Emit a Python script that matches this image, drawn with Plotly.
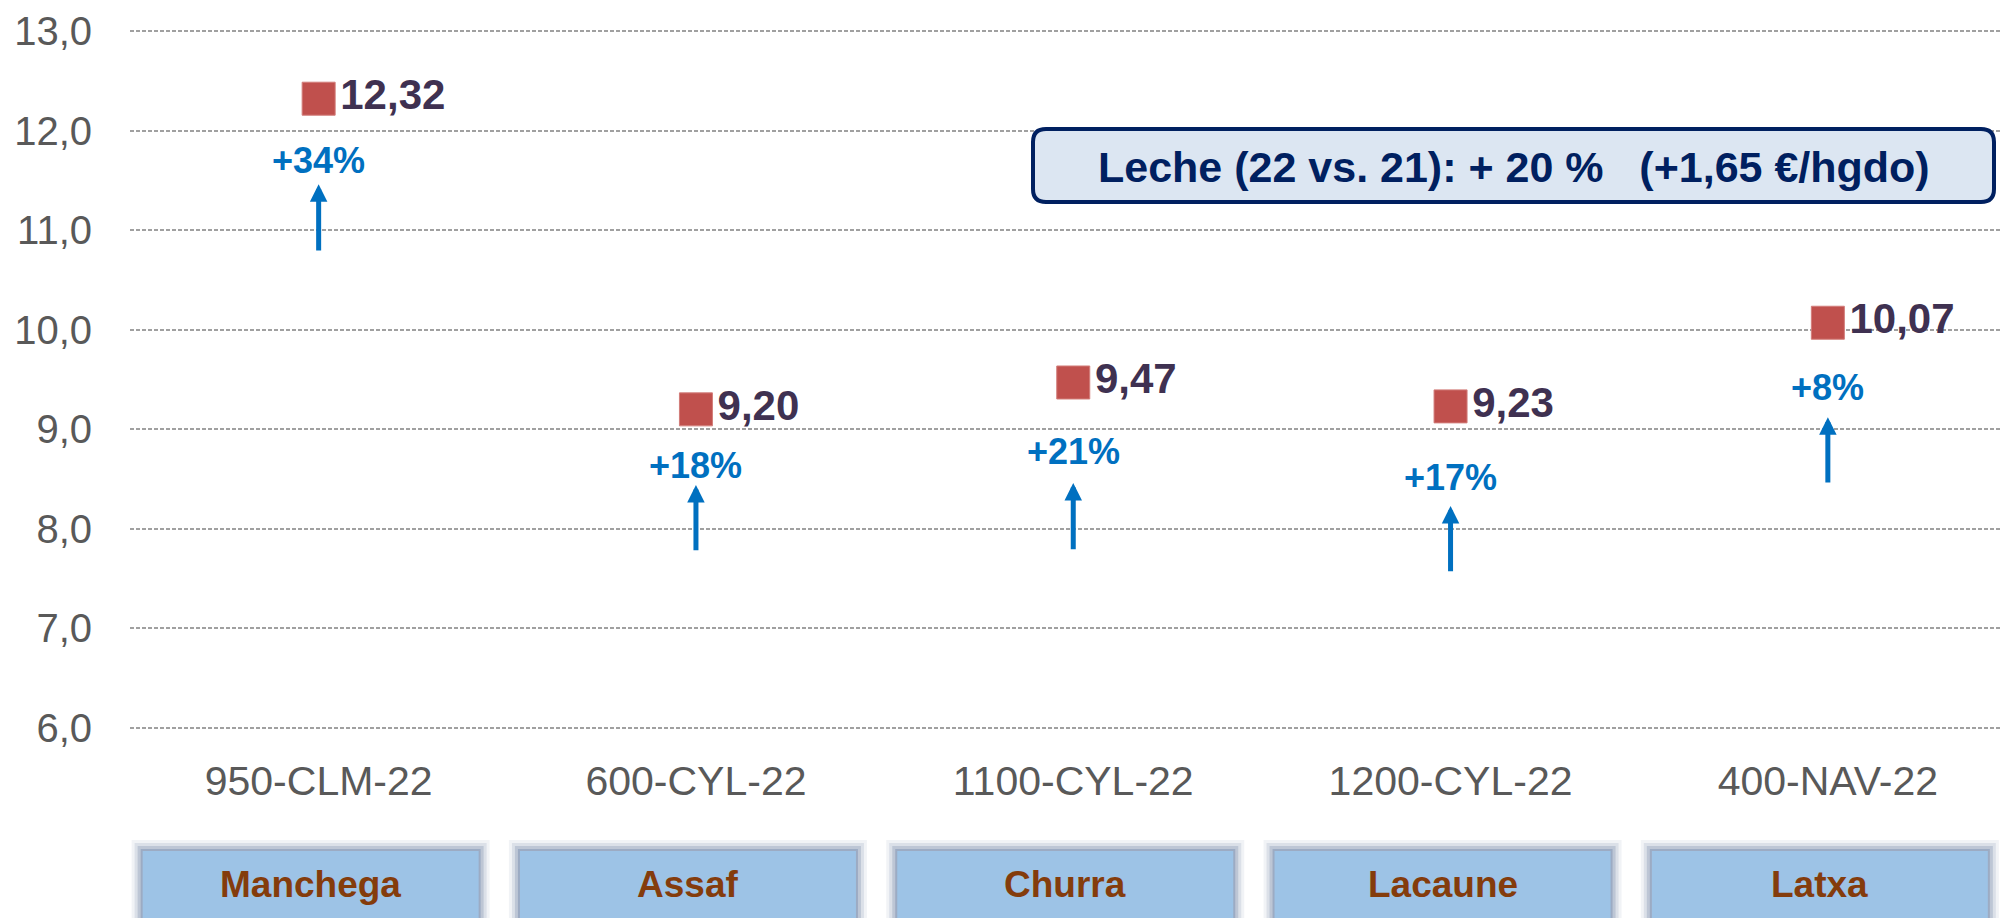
import plotly.graph_objects as go

# ---------------- data ----------------
categories = ["950-CLM-22", "600-CYL-22", "1100-CYL-22", "1200-CYL-22", "400-NAV-22"]
breeds = ["Manchega", "Assaf", "Churra", "Lacaune", "Latxa"]
values = [12.32, 9.20, 9.47, 9.23, 10.07]
pct_change = [34, 18, 21, 17, 8]
pct_label_y = [11.70, 8.64, 8.78, 8.52, 9.42]
arrow_tip_y = [11.46, 8.44, 8.46, 8.23, 9.12]
arrow_base_y = [10.78, 7.77, 7.78, 7.56, 8.45]
y_ticks = [6, 7, 8, 9, 10, 11, 12, 13]
summary_text = "Leche (22 vs. 21): + 20 %\u00a0\u00a0\u00a0(+1,65 €/hgdo)"

# ---------------- layout constants ----------------
W, H = 2000, 918
ML, MR, MT, MB = 130, 0, 28, 187
PLOT_W = W - ML - MR
PLOT_H = H - MT - MB
BAND = 377.3  # px per category
FONT = "Liberation Sans, Arial, sans-serif"


def px_x(px):
    return (px - ML) / PLOT_W


def px_y(py):
    return (MT + PLOT_H - py) / PLOT_H


fig = go.Figure()
fig.add_trace(go.Scatter(
    x=categories, y=values,
    mode="markers+text",
    marker=dict(symbol="square", size=33, color="#C0504D",
                line=dict(width=1, color="#D27D7A")),
    texttemplate="%{y:.2f}",
    textposition="middle right",
    textfont=dict(family=FONT, size=42, color="#3F3151", weight="bold"),
    cliponaxis=False,
    hoverinfo="skip",
    showlegend=False,
))

annotations = []
shapes = []

# percentage labels and arrows
for i, cat in enumerate(categories):
    annotations.append(dict(
        x=i, y=pct_label_y[i], xref="x", yref="y",
        text=f"+{pct_change[i]}%", showarrow=False,
        font=dict(family=FONT, size=36, color="#0070C0", weight="bold"),
        xanchor="center", yanchor="middle",
    ))
    annotations.append(dict(
        x=i, y=arrow_tip_y[i], xref="x", yref="y",
        ax=i, ay=arrow_base_y[i], axref="x", ayref="y",
        text="", showarrow=True,
        arrowhead=2, arrowwidth=5, arrowsize=0.7, arrowcolor="#0070C0",
        standoff=0, startstandoff=0,
        font=dict(size=1),
    ))

# breed boxes below the axis (with soft shadow)
box_top = px_y(851)
box_bot = px_y(935)
for i, name in enumerate(breeds):
    for grow, col in [(11, "rgba(120,140,170,0.10)"), (8, "rgba(120,140,170,0.18)"),
                      (5, "rgba(120,140,170,0.30)"), (2, "rgba(130,150,180,0.55)")]:
        shapes.append(dict(
            type="rect", xref="x", yref="paper", xsizemode="pixel", xanchor=i,
            x0=-176 - grow, x1=160 + grow,
            y0=box_bot, y1=box_top + grow / PLOT_H,
            fillcolor=col, line=dict(width=0), layer="above",
        ))
    shapes.append(dict(
        type="rect", xref="x", yref="paper", xsizemode="pixel", xanchor=i,
        x0=-176, x1=160, y0=box_bot, y1=box_top,
        fillcolor="#9DC3E6", line=dict(width=0), layer="above",
    ))
    annotations.append(dict(
        x=i, y=px_y(885), xref="x", yref="paper", xshift=-8,
        text=name, showarrow=False,
        font=dict(family=FONT, size=37, color="#843C0C", weight="bold"),
        xanchor="center", yanchor="middle",
    ))

# summary rounded box
L, R, T, B, rad = 1033, 1994, 129, 202, 13
rx = rad / PLOT_W
ry = rad / PLOT_H
x0, x1, y0, y1 = px_x(L), px_x(R), px_y(B), px_y(T)
path = (f"M {x0 + rx},{y1} L {x1 - rx},{y1} Q {x1},{y1} {x1},{y1 - ry} "
        f"L {x1},{y0 + ry} Q {x1},{y0} {x1 - rx},{y0} "
        f"L {x0 + rx},{y0} Q {x0},{y0} {x0},{y0 + ry} "
        f"L {x0},{y1 - ry} Q {x0},{y1} {x0 + rx},{y1} Z")
shapes.append(dict(type="path", xref="paper", yref="paper", path=path,
                   fillcolor="#DCE6F2", line=dict(color="#002060", width=4),
                   layer="above"))
annotations.append(dict(
    x=px_x((L + R) / 2), y=px_y(167), xref="paper", yref="paper",
    text=summary_text, showarrow=False,
    font=dict(family=FONT, size=43, color="#002060", weight="bold"),
    xanchor="center", yanchor="middle",
))

fig.update_layout(
    width=W, height=H,
    margin=dict(l=ML, r=MR, t=MT, b=MB, pad=0),
    paper_bgcolor="white", plot_bgcolor="white",
    separators=",.",
    showlegend=False,
    shapes=shapes,
    annotations=annotations,
    xaxis=dict(
        type="category",
        range=[-0.5, -0.5 + PLOT_W / BAND],
        showgrid=False, showline=False, zeroline=False,
        ticks="", ticklabelstandoff=22,
        tickfont=dict(family=FONT, size=41, color="#595959"),
        fixedrange=True,
    ),
    yaxis=dict(
        range=[5.97, 13.03],
        tickvals=y_ticks, tickformat=".1f",
        showgrid=True, gridcolor="#A0A0A0", gridwidth=2, griddash="4px,2px",
        showline=False, zeroline=False,
        ticks="", ticklabelstandoff=37,
        tickfont=dict(family=FONT, size=40, color="#595959"),
        fixedrange=True,
    ),
)

fig.write_html(
    "out.html",
    config={"displayModeBar": False},
    post_script="document.body.style.margin='0';document.body.style.overflow='hidden';",
)
